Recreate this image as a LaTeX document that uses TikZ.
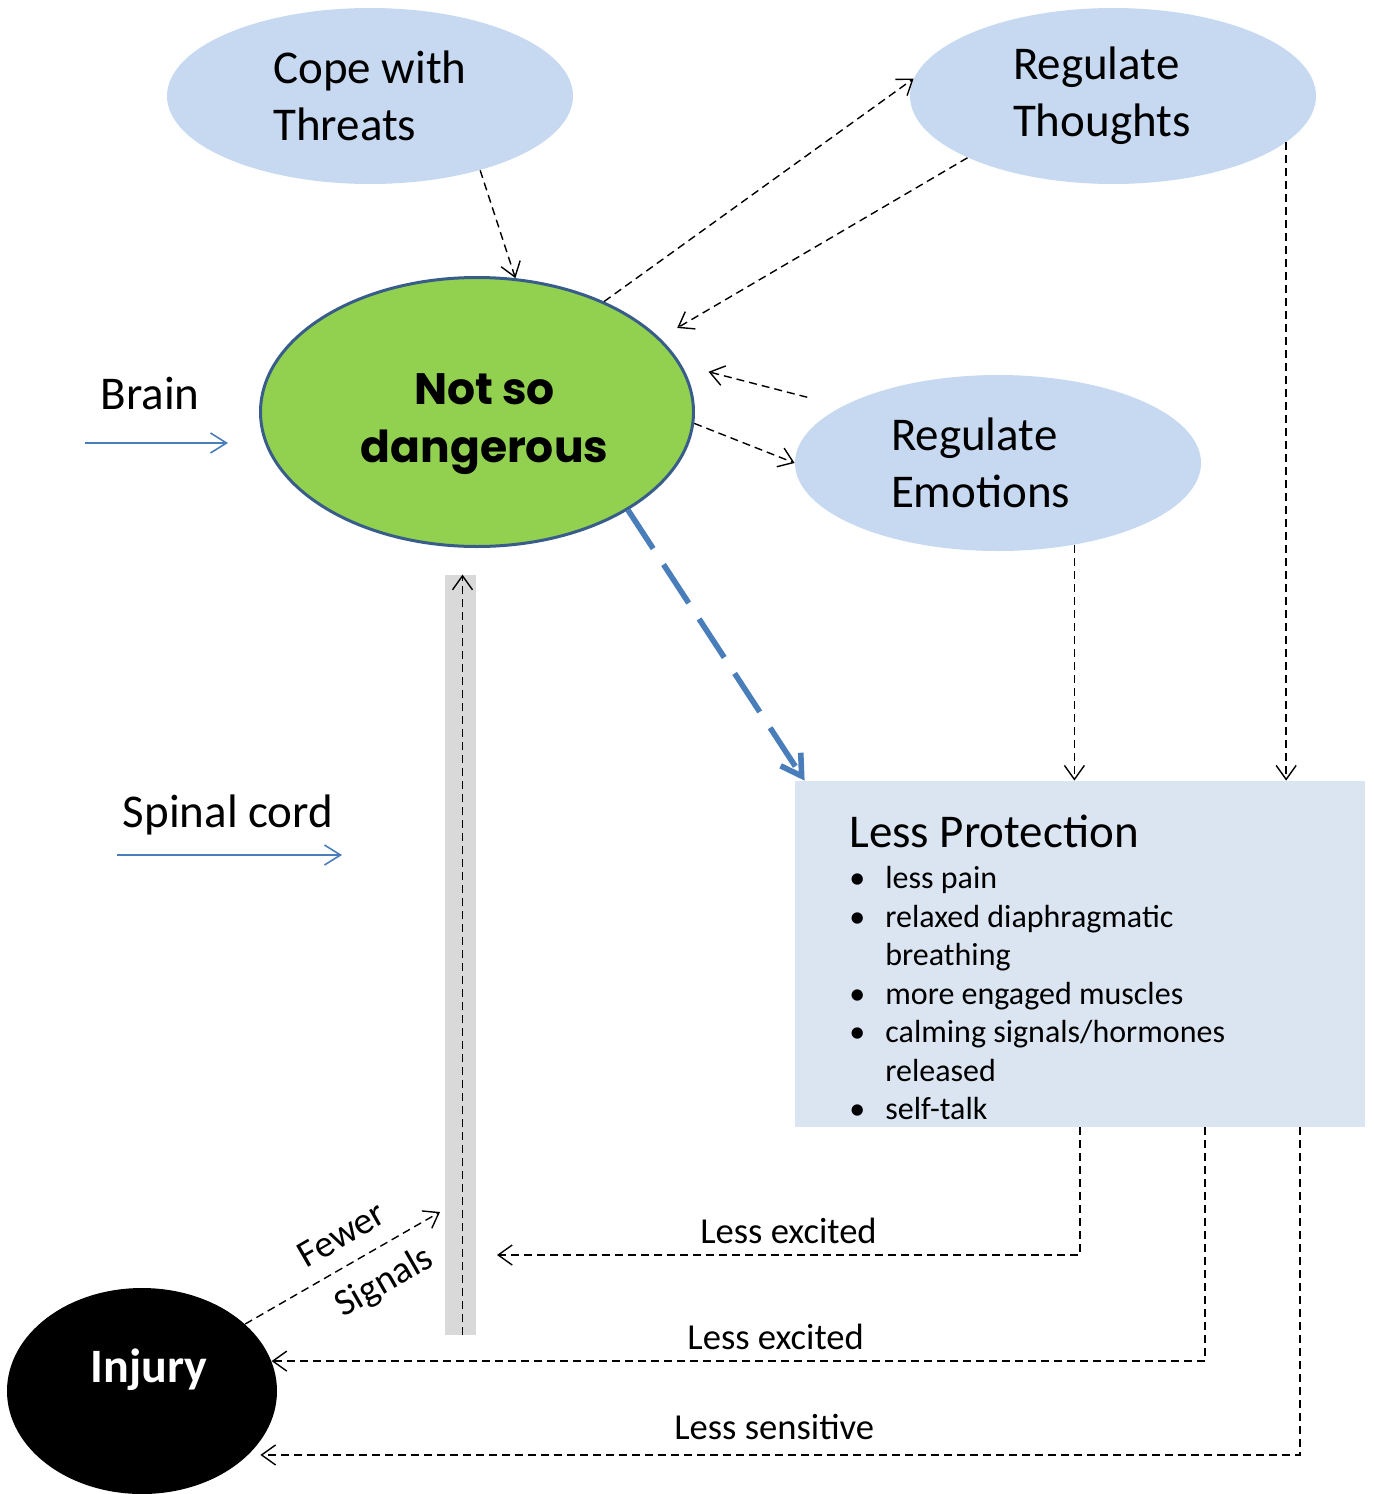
\documentclass[tikz,border=0pt]{standalone}
\usepackage{fontspec}
\setmainfont{Carlito}
\newfontfamily\headfont{Poppins}
\usetikzlibrary{shapes.geometric,arrows.meta}

\definecolor{bubble}{HTML}{C6D9F1}
\definecolor{panel}{HTML}{DBE5F1}
\definecolor{leaf}{HTML}{92D050}
\definecolor{rim}{HTML}{385D8A}
\definecolor{wire}{HTML}{4A7EBB}
\definecolor{cordgray}{HTML}{D9D9D9}

\newcommand{\blt}{\makebox[18pt][l]{\textbullet}}

\begin{document}
\begin{tikzpicture}[x=0.5pt,y=-0.5pt,>={Straight Barb[length=7pt,width=10pt]},
    big/.style={font=\fontsize{23.5}{28.5}\selectfont},
    lbl/.style={font=\fontsize{18.3}{22}\selectfont},
    bubble node/.style={ellipse,fill=bubble,minimum width=203pt,minimum height=88pt,inner sep=0pt,align=left,big},
    dline/.style={->,line width=0.7pt,dash pattern=on 4pt off 2.5pt},
    wire arrow/.style={-{Straight Barb[length=8pt,width=10pt]},wire,line width=0.8pt}]
    \useasboundingbox (0,0) rectangle (1373,1494);

    \node[bubble node] (cope) at (370,96) {Cope with\\Threats};
    \node[bubble node,text width=100pt] (thoughts) at (1113,96) {Regulate\\Thoughts};
    \node[bubble node,text width=107pt] (emotions) at (998,463) {Regulate\\Emotions};
    \node[ellipse,fill=leaf,draw=rim,line width=1.5pt,minimum width=216.5pt,minimum height=134.5pt,
        label={[align=center,font=\headfont\bfseries\fontsize{22}{29}\selectfont,xshift=3.75pt,yshift=-6pt]center:Not so\\dangerous}] (danger) at (477,412) {};
    \node[ellipse,fill=black,minimum width=135pt,minimum height=103pt,
        label={[text=white,font=\bfseries\fontsize{24}{29}\selectfont,xshift=3.5pt,yshift=10.5pt]center:Injury}] (injury) at (142,1391) {};
    \node[fill=cordgray,minimum width=15.5pt,minimum height=380pt,inner sep=0pt] (cord) at (460.5,955) {};
    \node[fill=panel,minimum width=285pt,minimum height=173pt,inner sep=0pt] (prot) at (1080,954) {};
    \node[anchor=north west,inner sep=0pt,align=left,font=\fontsize{16}{19.25}\selectfont] (list) at (849,815)
        {{\fontsize{23.5}{28.5}\selectfont Less Protection}\\[1.25pt]
         \blt less pain\\
         \blt relaxed diaphragmatic\\
         \hspace*{18pt}breathing\\
         \blt more engaged muscles\\
         \blt calming signals/hormones\\
         \hspace*{18pt}released\\
         \blt self-talk};

    \node[big] (brain) at (150,393) {Brain};
    \node[big] (spinal) at (228,815) {Spinal cord};
    \coordinate (b1) at (85,443);
    \coordinate (b2) at (228,443);
    \coordinate (s1) at (117,855);
    \coordinate (s2) at (342,855);
    \coordinate (e1) at (497,1255);
    \coordinate (fs) at (440,1212);

    \draw[wire arrow] (b1) -- (b2);
    \draw[wire arrow] (s1) -- (s2);

    \path[dline]
        (cope.-34) edge (danger.74)
        (danger.41) edge (thoughts.175)
        (thoughts.203) edge[shorten >=10pt] (danger.22)
        (emotions.160) edge[shorten <=18pt,shorten >=14pt] (danger.13)
        (danger.-3) edge (emotions.180)
        ([xshift=1pt]cord.south) edge ([xshift=1pt]cord.north)
        ;
    \draw[dline] (emotions.-47.5) -- (emotions.-47.5 |- prot.north);
    \draw[dline] (thoughts.-15.8) -- (thoughts.-15.8 |- prot.north);

    \draw[wire,line width=2.8pt,dash pattern=on 23pt off 9.5pt,-{Straight Barb[length=10pt,width=12pt]}]
        (danger.-33) -- ([xshift=5pt]prot.north west);

    \draw[dline] (prot.south) |- node[pos=0.75,above=2pt,lbl] {Less excited} (e1);
    \draw[dline] ([xshift=62.5pt]prot.south) |- node[pos=0.73,above=2pt,lbl] {Less excited} (injury.13.5);
    \draw[dline,shorten >=6pt] ([xshift=110pt]prot.south) |- node[pos=0.75,above=4pt,lbl] {Less sensitive} (injury.-31);
    \draw[dline] (injury.33) -- node[sloped,above=5pt,pos=0.57,font=\fontsize{19}{23}\selectfont] {Fewer}
        node[sloped,below=5pt,pos=0.63,font=\fontsize{19}{23}\selectfont] {Signals} (fs);
\end{tikzpicture}
\end{document}
